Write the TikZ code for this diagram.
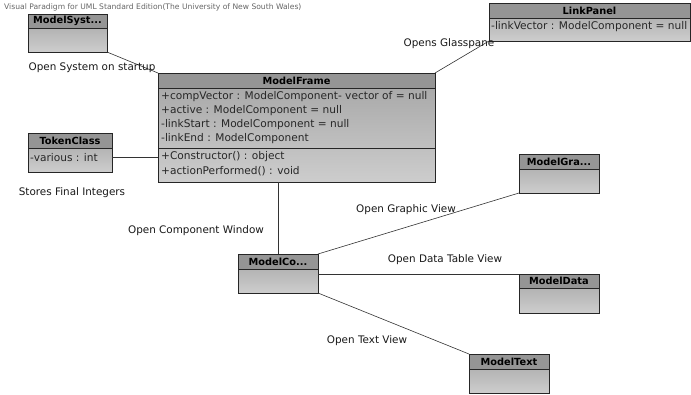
\documentclass[tikz,border=0pt]{standalone}
\usepackage{fontspec}
\setmainfont{DejaVu Sans}
\usetikzlibrary{calc}
\definecolor{hdr}{HTML}{959595}
\definecolor{btop}{HTML}{A4A4A4}
\definecolor{bbot}{HTML}{CDCDCD}
\tikzset{
  classbox/.style={draw=black!85, line width=0.8pt, top color=btop, bottom color=bbot, anchor=north west, inner sep=0pt, outer sep=0pt},
  hdrtext/.style={font=\fontsize{9.8}{11}\selectfont\bfseries, inner sep=0pt},
  membertext/.style={font=\fontsize{10.6}{11}\selectfont, inner sep=0pt, anchor=west, text=black!85},
  lbl/.style={font=\fontsize{10.4}{11}\selectfont, inner sep=0pt, text=black!90},
  conn/.style={draw=black!80, line width=0.6pt}
}
% name, x, y, width, height, header height, title
\newcommand\umlbox[7]{%
  \node[classbox, minimum width=#4pt, minimum height=#5pt] (#1) at (#2,#3) {};
  \fill[hdr] (#1.north west) rectangle ($(#1.north east)+(0,#6)$);
  \draw[black!85, line width=0.8pt] ($(#1.north west)+(0,#6)$) -- ($(#1.north east)+(0,#6)$);
  \draw[black!85, line width=0.8pt] (#1.north west) rectangle (#1.south east);
  \node[hdrtext] (#1-title) at ($(#1.north)+(0,#6/2)$) {#7};
}
\begin{document}
\begin{tikzpicture}[x=1pt,y=-1pt]
\useasboundingbox (0,0) rectangle (691,394);
\fill[white] (0,0) rectangle (691,394);

\node[font=\fontsize{7.6}{8}\selectfont, text=black!60, anchor=west, inner sep=0pt] (credit) at (4,7) {Visual Paradigm for UML Standard Edition(The University of New South Wales)};

% classes
\umlbox{ms}{28}{14}{79}{38}{14}{ModelSyst...}
\umlbox{lp}{489}{3}{201}{38}{15}{LinkPanel}
\node[membertext] (lp-a1) at (491,27) {-linkVector : ModelComponent = null};

\umlbox{mf}{158}{73}{277}{109}{15}{ModelFrame}
\draw[black!85, line width=0.8pt] ($(mf.north west)+(0,75)$) -- ($(mf.north east)+(0,75)$);
\node[membertext] (mf-a1) at (161,97) {+compVector : ModelComponent- vector of = null};
\node[membertext] (mf-a2) at (161,111) {+active : ModelComponent = null};
\node[membertext] (mf-a3) at (161,125) {-linkStart : ModelComponent = null};
\node[membertext] (mf-a4) at (161,139) {-linkEnd : ModelComponent};
\node[membertext] (mf-m1) at (161,157) {+Constructor() : object};
\node[membertext] (mf-m2) at (161,171) {+actionPerformed() : void};

\umlbox{tc}{28}{133}{84}{39}{15}{TokenClass}
\node[membertext] (tc-a1) at (30,158) {-various : int};

\umlbox{mc}{238}{254}{80}{39}{15}{ModelCo...}
\umlbox{mg}{519}{154}{80}{39}{15}{ModelGra...}
\umlbox{md}{519}{274}{80}{39}{14}{ModelData}
\umlbox{mt}{469}{354}{80}{39}{15}{ModelText}

% connectors
\coordinate (tcp) at ($(tc.north east)+(0,24)$);
\coordinate (mcp) at ($(mc.north east)+(0,20)$);
\draw[conn] (ms.south east) -- (mf.north west);
\draw[conn] (lp.south west) -- (mf.north east);
\draw[conn] (tcp) -- (tcp -| mf.west);
\draw[conn] (mc.north |- mf.south) -- (mc.north);
\draw[conn] (mc.north east) -- (mg.south west);
\draw[conn] (mcp) -- (mcp -| md.west);
\draw[conn] (mc.south east) -- (mt.north west);

% labels
\node[lbl] (l1) at (92,68) {Open System on startup};
\node[lbl] (l2) at (449,44) {Opens Glasspane};
\node[lbl] (l3) at (72,193) {Stores Final Integers};
\node[lbl] (l4) at (196,231) {Open Component Window};
\node[lbl] (l5) at (406,210) {Open Graphic View};
\node[lbl] (l6) at (445,260) {Open Data Table View};
\node[lbl] (l7) at (367,341) {Open Text View};
\end{tikzpicture}
\end{document}
